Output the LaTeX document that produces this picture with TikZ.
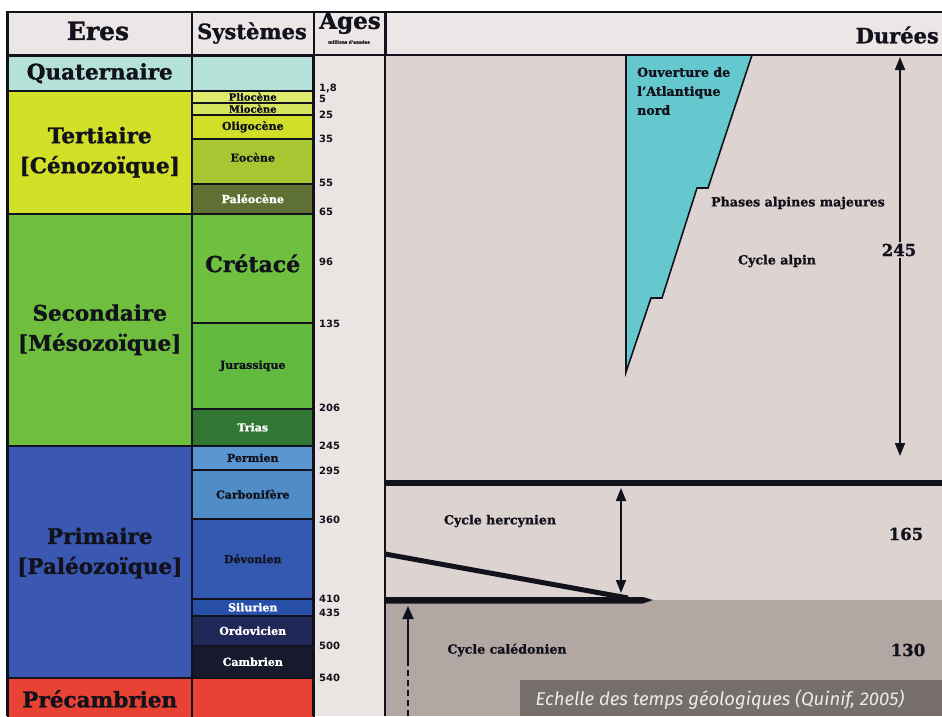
\documentclass[tikz,border=0pt]{standalone}
\usepackage{fontspec}
\setmainfont{DejaVu Serif}[BoldFeatures={FakeBold=1.2}]
\newfontfamily\agefont{DejaVu Sans}
\newfontfamily\capfont{Fira Sans}
\usepackage{xcolor}
\usetikzlibrary{arrows.meta, positioning}

\definecolor{inkc}{RGB}{18,18,28}
\definecolor{hdrbg}{RGB}{236,231,230}
\definecolor{agebg}{RGB}{234,228,226}
\definecolor{plotbg}{RGB}{221,211,209}
\definecolor{lowbg}{RGB}{178,167,163}
\definecolor{quatc}{RGB}{180,226,216}
\definecolor{tertc}{RGB}{210,224,40}
\definecolor{plioc}{RGB}{222,234,108}
\definecolor{mioc}{RGB}{214,230,92}
\definecolor{oligc}{RGB}{208,222,40}
\definecolor{eocc}{RGB}{168,198,50}
\definecolor{paleoc}{RGB}{95,112,52}
\definecolor{secc}{RGB}{112,190,62}
\definecolor{cretc}{RGB}{112,192,64}
\definecolor{jurc}{RGB}{98,186,62}
\definecolor{triasc}{RGB}{50,118,52}
\definecolor{primc}{RGB}{58,88,178}
\definecolor{permc}{RGB}{92,150,210}
\definecolor{carbc}{RGB}{80,140,200}
\definecolor{devc}{RGB}{50,88,176}
\definecolor{silc}{RGB}{40,80,168}
\definecolor{ordc}{RGB}{32,40,88}
\definecolor{cambc}{RGB}{22,26,44}
\definecolor{precc}{RGB}{232,66,52}
\definecolor{cyanc}{RGB}{100,200,206}
\definecolor{captc}{RGB}{118,110,106}

\tikzset{
  hdrbox/.style={
    draw=inkc, line width=1.5pt, fill=hdrbg, anchor=north west,
    inner sep=0pt, minimum height=43pt
  },
  hdrlabel/.style={
    inner sep=0pt, text=inkc, font=\bfseries\fontsize{22}{24}\selectfont
  },
  erabox/.style={
    draw=inkc, line width=1.5pt, anchor=north west, inner sep=0pt,
    align=center, minimum width=184pt, text=inkc,
    font=\bfseries\fontsize{21.5}{30}\selectfont
  },
  sysbox/.style={
    draw=inkc, line width=1.5pt, anchor=north west, inner sep=0pt,
    align=center, minimum width=122pt, text=inkc,
    font=\bfseries\fontsize{11}{12}\selectfont
  },
  agelabel/.style={
    anchor=west, inner sep=0pt, text=inkc,
    font=\agefont\bfseries\fontsize{10}{10}\selectfont
  },
  plotlabel/.style={
    inner sep=0pt, text=inkc, font=\bfseries\fontsize{12.6}{19}\selectfont
  },
  durlabel/.style={
    inner sep=2pt, text=inkc, font=\bfseries\fontsize{16.5}{18}\selectfont
  },
  durarrow/.style={
    {Triangle[length=13pt,width=10pt]}-{Triangle[length=13pt,width=10pt]},
    line width=1.8pt, draw=inkc
  },
  thickbar/.style={line width=6.5pt, draw=inkc},
}

\begin{document}
\begin{tikzpicture}[x=1pt, y=-1pt]
  \clip (0,0) rectangle (942,716);
  \fill[white] (0,0) rectangle (942,716);

  % Plot area
  \fill[plotbg] (385,54) rectangle (942,600);
  \fill[lowbg] (385,600) rectangle (942,716);
  \fill[agebg] (313,54) rectangle (385,716);

  % Header row
  \node[hdrbox, minimum width=184pt] (hEres) at (7,11) {};
  \node[hdrbox, minimum width=122pt] (hSys) at (191,11) {};
  \node[hdrbox, minimum width=72pt] (hAges) at (313,11) {};
  \node[hdrbox, minimum width=600pt] (hDur) at (385,11) {};
  \node[hdrlabel, font=\bfseries\fontsize{25}{26}\selectfont] (tEres)
    at (98,31) {Eres};
  \node[hdrlabel, font=\bfseries\fontsize{21}{22}\selectfont] (tSys)
    at (252,33) {Systèmes};
  \node[hdrlabel, font=\bfseries\fontsize{23}{24}\selectfont] (tAges)
    at (350,23) {Ages};
  \node[inner sep=0pt, text=inkc, font=\bfseries\fontsize{4.2}{5}\selectfont]
    (tMa) at (349,42) {millions d'années};
  \node[hdrlabel, anchor=east, font=\bfseries\fontsize{21}{22}\selectfont]
    (tDur) at (939,35) {Durées};

  % Eres
  \node[erabox, fill=quatc, minimum height=35pt] (quat) at (7,55)
    {Quaternaire};
  \node[erabox, fill=tertc, minimum height=123pt] (tert) at (7,90)
    {Tertiaire\\{[Cénozoïque]}};
  \node[erabox, fill=secc, minimum height=232pt] (sec) at (7,213)
    {Secondaire\\{[Mésozoïque]}};
  \node[erabox, fill=primc, minimum height=232pt, text depth=22pt] (prim)
    at (7,445) {Primaire\\{[Paléozoïque]}};
  \node[erabox, fill=precc, minimum height=60pt, text depth=18pt] (prec)
    at (7,677) {Précambrien};

  % Systemes
  \node[sysbox, fill=quatc, minimum height=35pt] (squat) at (191,55) {};
  \node[sysbox, fill=plioc, minimum height=12pt,
    font=\bfseries\fontsize{10}{10}\selectfont] (plio) at (191,90)
    {Pliocène};
  \node[sysbox, fill=mioc, minimum height=12pt,
    font=\bfseries\fontsize{10}{10}\selectfont] (mio) at (191,102)
    {Miocène};
  \node[sysbox, fill=oligc, minimum height=24pt] (olig) at (191,114)
    {Oligocène};
  \node[sysbox, fill=eocc, minimum height=45pt, text depth=8pt] (eoc)
    at (191,138) {Eocène};
  \node[sysbox, fill=paleoc, minimum height=30pt, text=white] (paleo)
    at (191,183) {Paléocène};
  \node[sysbox, fill=cretc, minimum height=109pt, text depth=10pt,
    font=\bfseries\fontsize{22}{24}\selectfont] (cret) at (191,213)
    {Crétacé};
  \node[sysbox, fill=jurc, minimum height=86pt] (jur) at (191,322)
    {Jurassique};
  \node[sysbox, fill=triasc, minimum height=37pt, text=white] (trias)
    at (191,408) {Trias};
  \node[sysbox, fill=permc, minimum height=24pt] (perm) at (191,445)
    {Permien};
  \node[sysbox, fill=carbc, minimum height=49pt] (carb) at (191,469)
    {Carbonifère};
  \node[sysbox, fill=devc, minimum height=80pt] (devo) at (191,518)
    {Dévonien};
  \node[sysbox, fill=silc, minimum height=17pt, text=white] (silu)
    at (191,598) {Silurien};
  \node[sysbox, fill=ordc, minimum height=30pt, text=white] (ordo)
    at (191,615) {Ordovicien};
  \node[sysbox, fill=cambc, minimum height=32pt, text=white] (camb)
    at (191,645) {Cambrien};
  \node[sysbox, fill=precc, minimum height=60pt] (sprec) at (191,677) {};

  % Ages
  \draw[inkc, line width=1.5pt] (313,54) -- (313,716);
  \draw[inkc, line width=1.5pt] (385,11) -- (385,716);
  \draw[inkc, line width=1.5pt] (7,11) -- (7,716);
  \node[agelabel] (a1) at (319,88) {1,8};
  \node[agelabel] (a5) at (319,99) {5};
  \node[agelabel] (a25) at (319,115) {25};
  \node[agelabel] (a35) at (319,139) {35};
  \node[agelabel] (a55) at (319,183) {55};
  \node[agelabel] (a65) at (319,212) {65};
  \node[agelabel] (a96) at (319,262) {96};
  \node[agelabel] (a135) at (319,324) {135};
  \node[agelabel] (a206) at (319,408) {206};
  \node[agelabel] (a245) at (319,446) {245};
  \node[agelabel] (a295) at (319,471) {295};
  \node[agelabel] (a360) at (319,520) {360};
  \node[agelabel] (a410) at (319,599) {410};
  \node[agelabel] (a435) at (319,613) {435};
  \node[agelabel] (a500) at (319,646) {500};
  \node[agelabel] (a540) at (319,678) {540};

  % Cycle alpin
  \draw[inkc, line width=1.6pt, fill=cyanc] (626,55) -- (752,55)
    -- (708,188) -- (697,188) -- (662,298) -- (651,298) -- (626,372)
    -- cycle;
  \node[plotlabel, anchor=north west, align=left] (atl) at (637,67)
    {Ouverture de\\l'Atlantique\\nord};
  \node[plotlabel] (phases) at (798,203) {Phases alpines majeures};
  \node[plotlabel] (alpin) at (777,261) {Cycle alpin};
  \coordinate (alpTop) at (900,57);
  \coordinate (alpBot) at (900,456);
  \draw[durarrow] (alpTop) -- (alpBot);
  \node[durlabel, fill=plotbg] (d245) at (899,250) {245};

  % Cycle hercynien
  \draw[thickbar] (385,483) -- (942,483);
  \coordinate (herTop) at (621,488);
  \coordinate (herBot) at (621,593);
  \draw[durarrow] (herTop) -- (herBot);
  \draw[inkc, line width=5pt] (385,554) -- (628,598);
  \fill[inkc] (385,597) -- (643,597) -- (653,600) -- (643,603.5)
    -- (385,603.5) -- cycle;
  \node[plotlabel] (hercyn) at (500,521) {Cycle hercynien};
  \node[durlabel] (d165) at (906,534) {165};

  % Cycle caledonien
  \coordinate (calTop) at (408,606);
  \coordinate (calMid) at (408,662);
  \coordinate (calBot) at (408,716);
  \draw[inkc, line width=2.2pt, -{Triangle[length=13pt,width=11pt]}]
    (calMid) -- (calTop);
  \draw[inkc, line width=2.2pt, dash pattern=on 6pt off 4pt] (calBot)
    -- (calMid);
  \node[plotlabel] (caled) at (507,650) {Cycle calédonien};
  \node[durlabel] (d130) at (908,650) {130};

  % Caption
  \fill[captc] (520,680) rectangle (942,716);
  \node[inner sep=0pt, text=white!92!black,
    font=\capfont\itshape\fontsize{18.5}{20}\selectfont] (caption)
    at (720,700) {Echelle des temps géologiques (Quinif, 2005)};
\end{tikzpicture}
\end{document}
